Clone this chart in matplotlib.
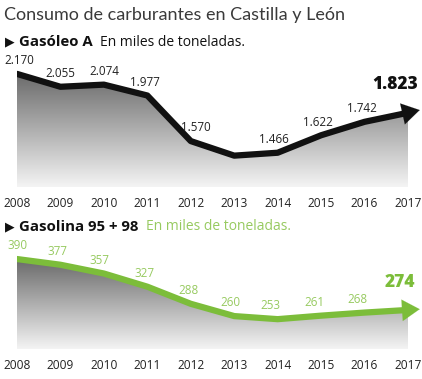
import numpy as np
import matplotlib
matplotlib.use('Agg')
from matplotlib import pyplot as plt
from matplotlib.patches import Polygon

years = [2008, 2009, 2010, 2011, 2012, 2013, 2014, 2015, 2016, 2017]
gasoleo = [2170, 2055, 2074, 1977, 1570, 1440, 1466, 1622, 1742, 1823]
gasoleo_labels = ['2.170', '2.055', '2.074', '1.977', '1.570', '', '1.466', '1.622', '1.742', '1.823']
gasolina = [390, 377, 357, 327, 288, 260, 253, 261, 268, 274]
gasolina_labels = ['390', '377', '357', '327', '288', '260', '253', '261', '268', '274']

FONT = ['Open Sans', 'DejaVu Sans']
GREEN = '#7cbd3a'
LIGHT_GREEN = '#97ca60'
W, H = 422, 379


def px_axes(fig, x0, y0, x1, y1):
    # pixel box (top-left origin) -> figure axes
    return fig.add_axes([x0 / W, 1 - y1 / H, (x1 - x0) / W, (y1 - y0) / H])


def draw_panel(ax, values, labels, ylim, line_color, label_color, big_color, lab_off, big_off):
    ax.set_xlim(years[0], years[-1])
    ax.set_ylim(*ylim)
    for s in ax.spines.values():
        s.set_visible(False)
    ax.set_yticks([])

    # gradient fill below the line
    verts = [(years[0], ylim[0])] + list(zip(years, values)) + [(years[-1], ylim[0])]
    poly = Polygon(verts, closed=True, facecolor='none', edgecolor='none')
    ax.add_patch(poly)
    top = max(values)
    grad = np.linspace(0, 1, 256).reshape(-1, 1)
    cmap = matplotlib.colors.LinearSegmentedColormap.from_list('g', ['#f4f4f4', '#6a6a6a'])
    im = ax.imshow(grad, extent=[years[0], years[-1], ylim[0], top], origin='lower',
                   aspect='auto', cmap=cmap, zorder=1)
    im.set_clip_path(poly)

    ax.plot(years, values, color=line_color, lw=4.5, solid_joinstyle='round',
            solid_capstyle='round', zorder=3)
    # arrow head at the end
    d = values[-1] - values[-2]
    ax.annotate('', xy=(years[-1] + 0.27, values[-1] + d * 0.3),
                xytext=(years[-1] - 0.1, values[-1] - d * 0.1),
                arrowprops=dict(arrowstyle='-|>,head_length=0.9,head_width=0.55',
                                mutation_scale=14, color=line_color, lw=0.1,
                                shrinkA=0, shrinkB=0),
                annotation_clip=False, zorder=4)

    for i, (x, v, t) in enumerate(zip(years, values, labels)):
        if i == len(years) - 1:
            ax.annotate(t, (x, v), xytext=big_off, textcoords='offset points',
                        ha='center', va='center', fontsize=12.5, fontweight='heavy',
                        color=big_color, family=FONT, annotation_clip=False)
        elif t:
            ax.annotate(t, (x, v), xytext=lab_off[i], textcoords='offset points',
                        ha='center', va='center', fontsize=8.4, color=label_color,
                        family=FONT, annotation_clip=False)

    ax.set_xticks(years)
    ax.set_xticklabels([str(y) for y in years], fontsize=8.6, family=FONT, color='#222222')
    ax.tick_params(axis='x', length=0, pad=7)


fig = plt.figure(figsize=(W / 100, H / 100), dpi=100)

fig.text(4 / W, 1 - 15 / H, 'Consumo de carburantes en Castilla y León', fontsize=13,
         family=['Lato', 'DejaVu Sans'], color='#3a3a3a', va='center')

fig.text(5 / W, 1 - 42 / H, '▶', fontsize=9, family='DejaVu Sans', color='#111111', va='center')
fig.text(19 / W, 1 - 42 / H, 'Gasóleo A', fontsize=10.8, family=FONT, fontweight='bold',
         color='#111111', va='center')
fig.text(100 / W, 1 - 42 / H, 'En miles de toneladas.', fontsize=10, family=FONT,
         color='#111111', va='center')

fig.text(5 / W, 1 - 227 / H, '▶', fontsize=9, family='DejaVu Sans', color='#111111', va='center')
fig.text(19 / W, 1 - 227 / H, 'Gasolina 95 + 98', fontsize=10.8, family=FONT, fontweight='bold',
         color='#111111', va='center')
fig.text(146 / W, 1 - 227 / H, 'En miles de toneladas.', fontsize=10, family=FONT,
         color=LIGHT_GREEN, va='center')

ax1 = px_axes(fig, 17, 60, 408, 187)
draw_panel(ax1, gasoleo, gasoleo_labels, (1160, 2294), '#111111', '#222222', '#111111',
           [(2, 9.5), (0, 9.5), (0, 9.5), (-2, 9.5), (4, 10), (0, 9.5),
            (-3, 9.5), (-2, 9.5), (-2, 9.5), (0, 9.5)], (-9, 20))

ax2 = px_axes(fig, 17, 245, 408, 349)
draw_panel(ax2, gasolina, gasolina_labels, (185, 422), GREEN, LIGHT_GREEN, GREEN,
           [(0, 9.5), (-2, 9.5), (-3, 9.5), (-2, 9.5), (-2, 9.5), (-3, 9.5),
            (-5, 9.5), (-5, 9.5), (-5, 9.5), (0, 9.5)], (-6, 20))

fig.savefig('out.png', dpi=100)
